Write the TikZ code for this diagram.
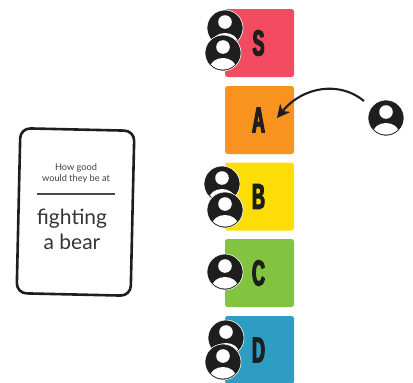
\documentclass[tikz,border=0pt]{standalone}
\usepackage{fontspec}
\setmainfont{Lato}
\newfontfamily\tierfont[FakeStretch=0.5,FakeBold=3.2]{Liberation Sans}
\usepackage{tikz}
\usetikzlibrary{arrows.meta}
\definecolor{tierS}{HTML}{F34B62}
\definecolor{tierA}{HTML}{F8931F}
\definecolor{tierB}{HTML}{FDDD06}
\definecolor{tierC}{HTML}{82C341}
\definecolor{tierD}{HTML}{2E9DC4}
\definecolor{inkdark}{HTML}{1E1E1E}

\begin{document}
\begin{tikzpicture}[
    x=1pt,
    y=-1pt,
    tierbox/.style={
        rectangle,
        rounded corners=2.5pt,
        minimum width=69pt,
        minimum height=68pt,
        inner sep=0pt,
        text=inkdark,
        font=\tierfont\bfseries\fontsize{36}{36}\selectfont
    },
    avatar/.style={
        circle,
        draw=white,
        line width=0.6pt,
        fill=inkdark,
        minimum size=36pt,
        inner sep=0pt,
        path picture={
            \fill[white] ([yshift=6pt]path picture bounding box.center) circle (6.8pt);
            \clip (path picture bounding box.center) circle (16.6pt);
            \fill[white] ([yshift=-15pt]path picture bounding box.center) ellipse (13pt and 10pt);
        }
    },
    card/.style={
        rectangle,
        draw=inkdark,
        line width=2.6pt,
        rounded corners=10pt,
        minimum width=114pt,
        minimum height=165pt,
        rotate=-1.3
    },
    cardsmall/.style={
        text=inkdark!85,
        align=center,
        font=\fontsize{9.2}{11}\selectfont
    },
    cardbig/.style={
        text=inkdark!90,
        align=center,
        font=\fontsize{21}{25}\selectfont
    }
    ]
    \useasboundingbox (0,0) rectangle (413,383);

    % tier boxes
    \node[tierbox, fill=tierS] (tierS) at (259.5,43) {\hspace{-2pt}S};
    \node[tierbox, fill=tierA] (tierA) at (259.5,120) {\hspace{-2pt}A};
    \node[tierbox, fill=tierB] (tierB) at (259.5,196.5) {\hspace{-2pt}B};
    \node[tierbox, fill=tierC] (tierC) at (259.5,273) {\hspace{-2pt}C};
    \node[tierbox, fill=tierD] (tierD) at (259.5,350) {\hspace{-2pt}D};

    % people on the tiers
    \node[avatar] (personSa) at (225,28) {};
    \node[avatar] (personSb) at (223,53) {};
    \node[avatar] (personBa) at (222,184) {};
    \node[avatar] (personBb) at (225,210) {};
    \node[avatar] (personCa) at (225,272) {};
    \node[avatar] (personDa) at (226,338) {};
    \node[avatar] (personDb) at (223,362) {};
    \node[avatar] (personNew) at (386,118) {};

    % arrow into tier A
    \coordinate (arrowfrom) at (364,101);
    \coordinate (arrowto) at (277,118);
    \draw[line width=2.1pt, draw=inkdark, -{Stealth[length=13pt, width=13pt, inset=4pt]}]
        (arrowfrom) .. controls (340,81) and (303,86) .. (arrowto);

    % question card
    \node[card] (cardbox) at (75.5,212) {};
    \node[cardsmall] (cardtop) at (76,173.5) {How good\\would they be at};
    \node[cardbig] (cardbottom) at (72,229.5) {fighting\\a bear};
    \coordinate (ruleleft) at (37,194);
    \coordinate (ruleright) at (115,194);
    \draw[line width=1.4pt, draw=inkdark!80] (ruleleft) -- (ruleright);
\end{tikzpicture}
\end{document}
